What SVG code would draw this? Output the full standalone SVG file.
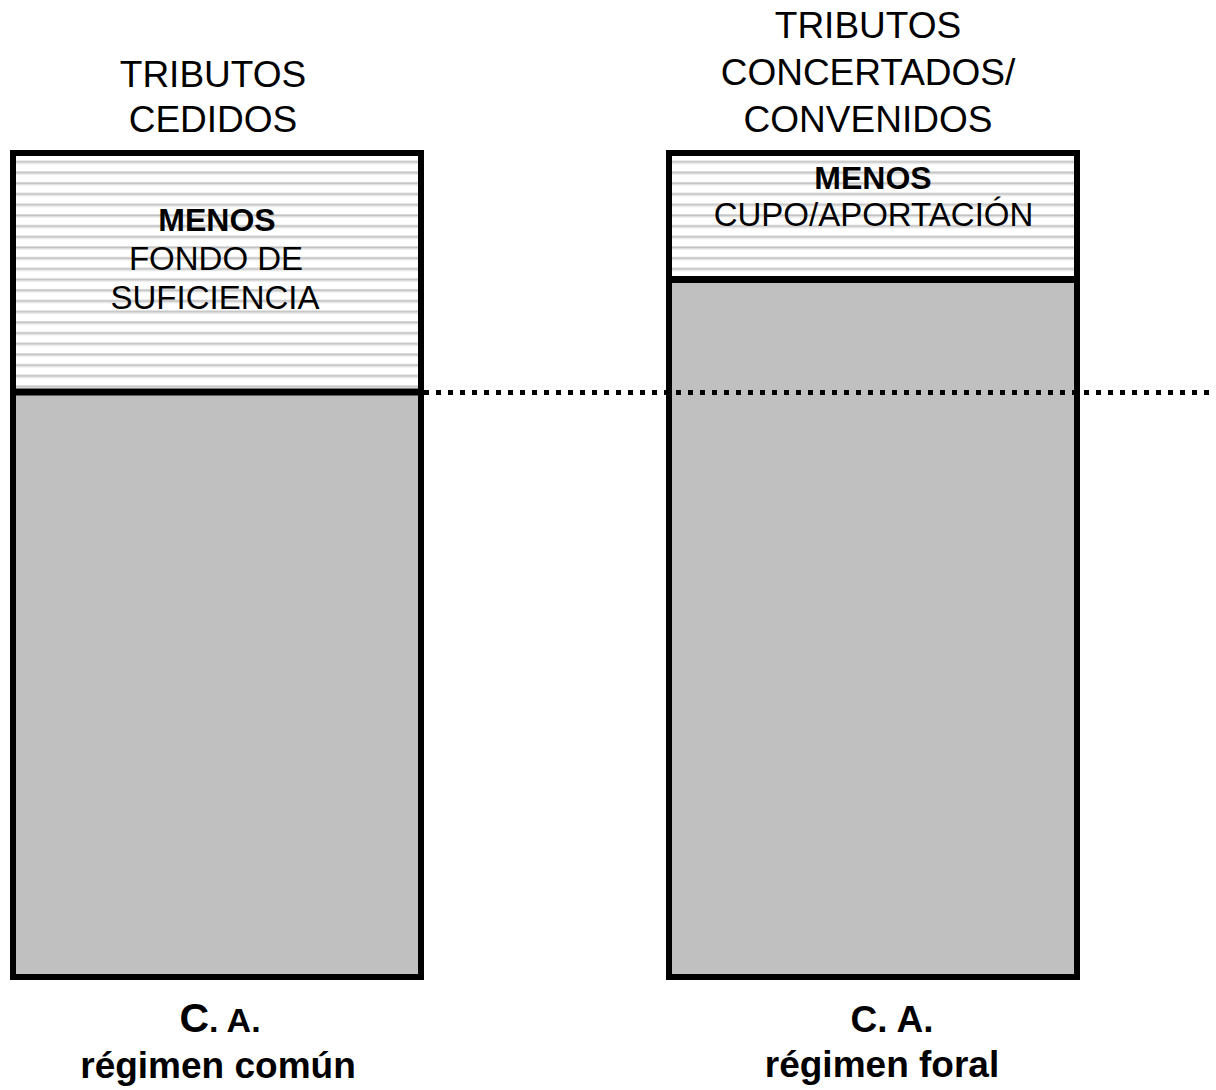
<svg xmlns="http://www.w3.org/2000/svg" width="1216" height="1090" viewBox="0 0 1216 1090">
  <defs>
    <pattern id="hatch" patternUnits="userSpaceOnUse" x="0" y="0" width="20" height="10.7">
      <rect x="0" y="0" width="20" height="10.7" fill="#ffffff"/>
      <rect x="0" y="-0.5" width="20" height="1" fill="#dadada"/>
      <rect x="0" y="0.5" width="20" height="1.8" fill="#c2c2c2"/>
      <rect x="0" y="2.3" width="20" height="1" fill="#dadada"/>
    </pattern>
    <style>
      .frame { fill: none; stroke: #000; stroke-width: 6; }
      .divider { stroke: #000; stroke-width: 7; }
      .hatch { fill: url(#hatch); }
      .solid { fill: #c0c0c0; }
      .title { font-family: "Liberation Sans", Arial, sans-serif; font-size: 37px; fill: #000; text-anchor: middle; }
      .inner { font-family: "Liberation Sans", Arial, sans-serif; font-size: 33px; fill: #000; text-anchor: middle; }
      .innerb { font-family: "Liberation Sans", Arial, sans-serif; font-size: 32px; font-weight: bold; fill: #000; text-anchor: middle; }
      .foot { font-family: "Liberation Sans", Arial, sans-serif; font-size: 37px; font-weight: bold; fill: #000; text-anchor: middle; }
      .dotted { stroke: #000; stroke-width: 5; stroke-dasharray: 5 7; fill: none; }
    </style>
  </defs>
  <rect x="0" y="0" width="1216" height="1090" fill="#ffffff"/>

  <g id="comun">
    <rect class="hatch" x="13" y="153" width="408" height="239"/>
    <rect class="solid" x="13" y="392" width="408" height="585"/>
    <line class="divider" x1="10" y1="392" x2="424" y2="392"/>
    <rect class="frame" x="13" y="153" width="408" height="824"/>
    <text class="title" x="213" y="87">TRIBUTOS</text>
    <text class="title" x="213" y="132">CEDIDOS</text>
    <text class="innerb" x="217" y="231">MENOS</text>
    <text class="inner" x="216" y="269.5">FONDO DE</text>
    <text class="inner" x="215" y="308.5">SUFICIENCIA</text>
    <text class="foot" x="220" y="1032"><tspan font-size="41">C</tspan><tspan font-size="34">. A.</tspan></text>
    <text class="foot" x="218" y="1078">régimen común</text>
  </g>

  <g id="foral">
    <rect class="hatch" x="669" y="153" width="408" height="127"/>
    <rect class="solid" x="669" y="280" width="408" height="697"/>
    <line class="divider" x1="666" y1="279.5" x2="1080" y2="279.5"/>
    <rect class="frame" x="669" y="153" width="408" height="824"/>
    <text class="title" x="868" y="37.5">TRIBUTOS</text>
    <text class="title" x="868" y="85">CONCERTADOS/</text>
    <text class="title" x="868" y="132">CONVENIDOS</text>
    <text class="innerb" x="873" y="188.5">MENOS</text>
    <text class="inner" x="873.5" y="226" font-size="32">CUPO/APORTACIÓN</text>
    <text class="foot" x="892" y="1032" font-size="35">C. A.</text>
    <text class="foot" x="882" y="1077">régimen foral</text>
  </g>

  <g id="connectors">
    <line class="dotted" x1="424" y1="392.5" x2="1216" y2="392.5"/>
  </g>
</svg>
